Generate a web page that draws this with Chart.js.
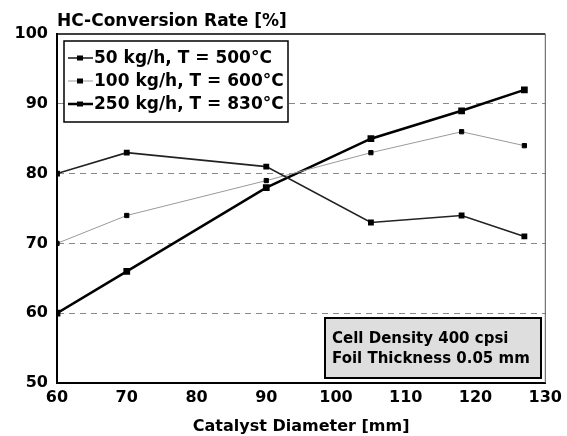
<!DOCTYPE html>
<html>
<head>
<meta charset="utf-8">
<script src="https://cdn.jsdelivr.net/npm/chart.js@4"></script>
<style>
	body { margin: 0; background: #fff; }
	#wrap { width: 567px; height: 436px; }
</style>
</head>
<body>
<div id="wrap"><canvas id="convChart"></canvas></div>
<script>
const diameters = [60, 70, 90, 105, 118, 127];
const rate50 = [80, 83, 81, 73, 74, 71];
const rate100 = [70, 74, 79, 83, 86, 84];
const rate250 = [60, 66, 78, 85, 89, 92];
const seriesLabels = ['50 kg/h, T = 500°C', '100 kg/h, T = 600°C', '250 kg/h, T = 830°C'];
const noteLines = ['Cell Density 400 cpsi', 'Foil Thickness 0.05 mm'];

const FONT = '"DejaVu Sans", Arial, sans-serif';

function pts(vals) {
	return diameters.map((d, i) => ({ x: d, y: vals[i] }));
}

// legend box, note box, title and frame drawn on top
const extras = {
	id: 'extras',
	afterDraw(chart) {
		const c = chart.ctx;
		const a = chart.chartArea;
		c.save();
		// frame top/right
		c.strokeStyle = '#000';
		c.lineWidth = 1.5;
		c.beginPath();
		c.moveTo(a.left, a.top);
		c.lineTo(a.right, a.top);
		c.stroke();
		c.strokeStyle = '#555';
		c.lineWidth = 1;
		c.beginPath();
		c.moveTo(a.right, a.top);
		c.lineTo(a.right, a.bottom);
		c.stroke();

		// title
		c.fillStyle = '#000';
		c.font = 'bold 17px ' + FONT;
		c.textAlign = 'left';
		c.textBaseline = 'alphabetic';
		c.fillText('HC-Conversion Rate [%]', 57, 26);

		// legend
		const lx = 64, ly = 41, lw = 224, lh = 81;
		c.fillStyle = '#fff';
		c.fillRect(lx, ly, lw, lh);
		c.lineWidth = 1.5;
		c.strokeStyle = '#000';
		c.strokeRect(lx, ly, lw, lh);
		c.font = 'bold 17px ' + FONT;
		c.textBaseline = 'middle';
		chart.data.datasets.forEach((ds, i) => {
			const y = ly + 17 + i * 23;
			c.strokeStyle = ds.borderColor;
			c.lineWidth = ds.borderWidth;
			c.beginPath();
			c.moveTo(lx + 4, y);
			c.lineTo(lx + 29, y);
			c.stroke();
			c.fillStyle = '#000';
			c.fillRect(lx + 13, y - 2.5, 6, 5);
			c.fillText(ds.label, lx + 30, y + 1);
		});

		// note box
		const nx = 325, ny = 318, nw = 216, nh = 60;
		c.fillStyle = '#dedede';
		c.fillRect(nx, ny, nw, nh);
		c.lineWidth = 2;
		c.strokeStyle = '#000';
		c.strokeRect(nx, ny, nw, nh);
		c.fillStyle = '#000';
		c.font = 'bold 15px ' + FONT;
		c.textBaseline = 'middle';
		noteLines.forEach((t, i) => c.fillText(t, nx + 7, ny + 21 + i * 20));
		c.restore();
	}
};

const ctx = document.getElementById('convChart').getContext('2d');
new Chart(ctx, {
	type: 'line',
	data: {
		datasets: [{
			label: seriesLabels[0],
			data: pts(rate50),
			borderColor: '#222',
			borderWidth: 1.6,
			pointStyle: 'rect',
			pointRadius: 3,
			pointBackgroundColor: '#000',
			pointBorderColor: '#000',
			tension: 0
		}, {
			label: seriesLabels[1],
			data: pts(rate100),
			borderColor: '#9a9a9a',
			borderWidth: 1,
			pointStyle: 'rect',
			pointRadius: 3,
			pointBackgroundColor: '#000',
			pointBorderColor: '#000',
			tension: 0
		}, {
			label: seriesLabels[2],
			data: pts(rate250),
			borderColor: '#000',
			borderWidth: 2.5,
			pointStyle: 'rect',
			pointRadius: 3,
			pointBackgroundColor: '#000',
			pointBorderColor: '#000',
			tension: 0
		}]
	},
	options: {
		responsive: true,
		maintainAspectRatio: false,
		animation: false,
		layout: { padding: { top: 34, right: 16, left: 0, bottom: 0 } },
		plugins: {
			legend: { display: false },
			tooltip: { enabled: false }
		},
		scales: {
			x: {
				type: 'linear',
				min: 60,
				max: 130,
				ticks: {
					stepSize: 10,
					color: '#000',
					font: { family: FONT, size: 16, weight: 'bold' },
					padding: 5
				},
				grid: { display: false, drawTicks: false },
				border: { color: '#000', width: 2 },
				title: {
					display: true,
					text: 'Catalyst Diameter [mm]',
					color: '#000',
					font: { family: FONT, size: 16, weight: 'bold' },
					padding: { top: 3, bottom: 0 }
				},
				afterFit(scale) { scale.height = 53; }
			},
			y: {
				min: 50,
				max: 100,
				ticks: {
					stepSize: 10,
					color: '#000',
					font: { family: FONT, size: 16, weight: 'bold' },
					padding: 9
				},
				grid: {
					drawTicks: false,
					color: ctx => (ctx.tick.value === 50 || ctx.tick.value === 100) ? 'rgba(0,0,0,0)' : '#888',
					lineWidth: 1
				},
				border: { color: '#000', width: 2, dash: [6, 5], dashOffset: 0 },
				afterFit(scale) { scale.width = 57; }
			}
		}
	},
	plugins: [extras]
});
</script>
</body>
</html>
